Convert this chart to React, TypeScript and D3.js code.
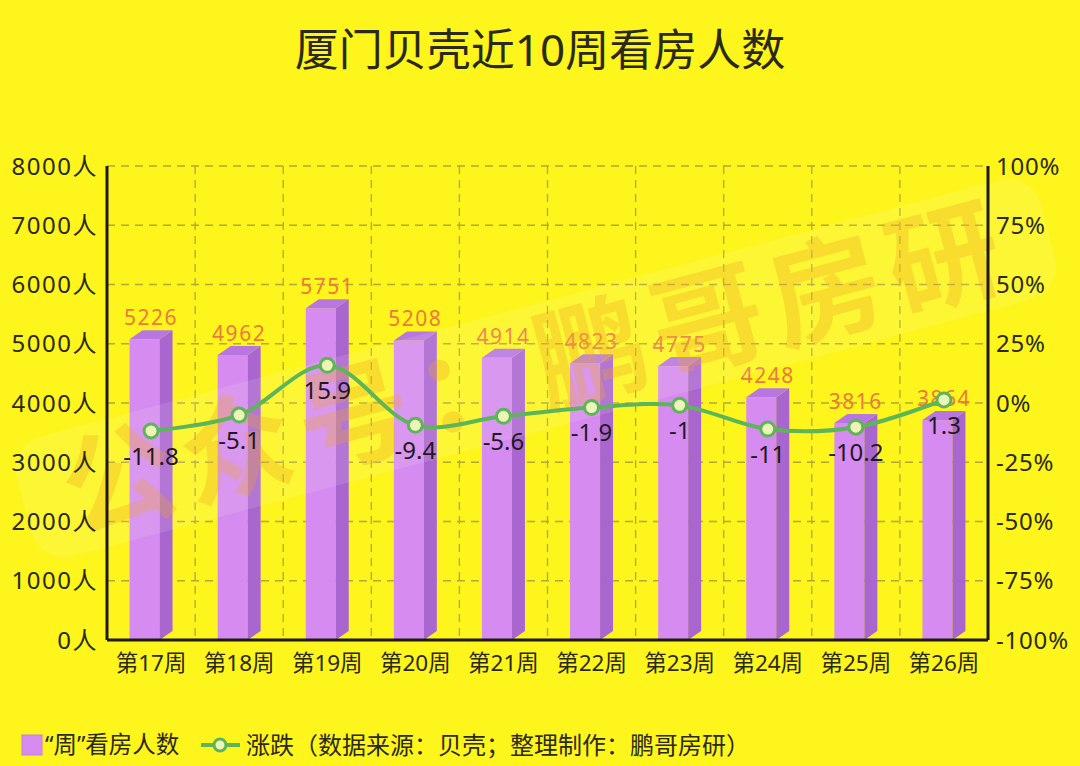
import React, { useEffect } from 'react';
import * as d3 from 'd3';

const weeks = ['第17周', '第18周', '第19周', '第20周', '第21周', '第22周', '第23周', '第24周', '第25周', '第26周'];
const viewers = [5226, 4962, 5751, 5208, 4914, 4823, 4775, 4248, 3816, 3864];
const changes = [-11.8, -5.1, 15.9, -9.4, -5.6, -1.9, -1, -11, -10.2, 1.3];
const leftTicks = [0, 1000, 2000, 3000, 4000, 5000, 6000, 7000, 8000];
const rightTicks = [-100, -75, -50, -25, 0, 25, 50, 75, 100];

const W = 1080;
const H = 766;
const margin = { top: 166, right: 92, bottom: 126, left: 107 };
const FONT = '"Noto Sans", "Noto Sans CJK SC", sans-serif';

const App: React.FC = () => {
	useEffect(() => {
		document.body.style.margin = '0';
	}, []);

	const x = d3
		.scaleBand<string>()
		.domain(weeks)
		.range([margin.left, W - margin.right])
		.padding(0);
	const y = d3
		.scaleLinear()
		.domain([0, 8000])
		.range([H - margin.bottom, margin.top]);
	const yR = d3
		.scaleLinear()
		.domain([-100, 100])
		.range([H - margin.bottom, margin.top]);

	const y0 = y(0);
	const frontW = 30;
	const dx = 13;
	const dy = 9;

	const cx = (i: number) => (x(weeks[i]) as number) + x.bandwidth() / 2;

	const line = d3
		.line<number>()
		.x((_, i) => cx(i))
		.y((d) => yR(d))
		.curve(d3.curveCatmullRom.alpha(0.5));

	return (
		<svg width={W} height={H} style={{ display: 'block', fontFamily: FONT }}>
			<rect width={W} height={H} fill='#fdf51c' />

			<text x={W / 2} y={66} textAnchor='middle' fontSize={44} fill='#2b2a1a'>
				厦门贝壳近10周看房人数
			</text>

			{/* grid */}
			<g stroke='#b3a838' strokeWidth={1.3} strokeDasharray='8,6'>
				{leftTicks.slice(1).map((t) => (
					<line key={t} x1={margin.left} x2={W - margin.right} y1={y(t)} y2={y(t)} />
				))}
				{weeks.slice(1).map((w) => (
					<line key={w} x1={x(w)} x2={x(w)} y1={margin.top} y2={y0} />
				))}
			</g>

			{/* bars */}
			{viewers.map((v, i) => {
				const fx = cx(i) - 21.5;
				const yt = y(v);
				return (
					<g key={i}>
						<rect x={fx} y={yt + dy} width={frontW} height={y0 - yt - dy} fill='#d58bef' />
						<polygon
							points={`${fx + frontW},${yt + dy} ${fx + frontW + dx},${yt} ${fx + frontW + dx},${y0 - dy} ${fx + frontW},${y0}`}
							fill='#aa66cf'
						/>
						<polygon
							points={`${fx},${yt + dy} ${fx + frontW},${yt + dy} ${fx + frontW + dx},${yt} ${fx + dx},${yt}`}
							fill='#b877e0'
						/>
						<text x={cx(i)} y={yt - 5} textAnchor='middle' fontSize={21} letterSpacing={1.5} fill='#ec7a3c'>
							{v}
						</text>
					</g>
				);
			})}

			{/* watermark */}
			<g transform='translate(536,368) rotate(-15)' pointerEvents='none'>
				<rect x={-530} y={-62} width={1060} height={124} rx={34} fill='#ffffff' opacity={0.11} />
				<text
					x={0}
					y={0}
					dy='0.36em'
					textAnchor='middle'
					fontSize={112}
					fontWeight='bold'
					letterSpacing={10}
					fill='#eda622'
					opacity={0.3}
				>
					公众号：鹏哥房研
				</text>
			</g>

			{/* axes */}
			<g stroke='#1e1a10' strokeWidth={3}>
				<line x1={margin.left} x2={margin.left} y1={margin.top} y2={y0} />
				<line x1={W - margin.right} x2={W - margin.right} y1={margin.top} y2={y0} />
				<line x1={margin.left} x2={W - margin.right} y1={y0} y2={y0} />
			</g>
			{leftTicks.map((t) => (
				<text key={t} x={98} y={y(t)} dy='0.36em' textAnchor='end' fontSize={24} letterSpacing={1.5} fill='#2b2a1a'>
					{t}人
				</text>
			))}
			{rightTicks.map((t) => (
				<text key={t} x={996} y={yR(t)} dy='0.36em' textAnchor='start' fontSize={24} letterSpacing={0.8} fill='#2b2a1a'>
					{t}%
				</text>
			))}
			{weeks.map((w, i) => (
				<text key={w} x={cx(i)} y={671} textAnchor='middle' fontSize={22.5} fill='#2b2a1a'>
					{w}
				</text>
			))}

			{/* change line */}
			<path d={line(changes) as string} fill='none' stroke='#5db55a' strokeWidth={4} />
			{changes.map((c, i) => (
				<g key={i}>
					<circle cx={cx(i)} cy={yR(c)} r={7} fill='#eef3b8' stroke='#5db55a' strokeWidth={3} />
					<text x={cx(i)} y={yR(c) + 25} dy='0.36em' textAnchor='middle' fontSize={24} fill='#1f1a22'>
						{c}
					</text>
				</g>
			))}

			{/* legend */}
			<rect x={22} y={735} width={20} height={20} fill='#d58bef' stroke='#c27ee0' strokeWidth={1} />
			<text x={45} y={745} dy='0.36em' fontSize={23.5} fill='#2b2a1a'>
				“周”看房人数
			</text>
			<line x1={201} x2={240} y1={745} y2={745} stroke='#5db55a' strokeWidth={4} />
			<circle cx={220} cy={745} r={6} fill='#eef3b8' stroke='#5db55a' strokeWidth={3} />
			<text x={246} y={745} dy='0.36em' fontSize={24} fill='#2b2a1a'>
				涨跌（数据来源：贝壳；整理制作：鹏哥房研）
			</text>
		</svg>
	);
};

export default App;
